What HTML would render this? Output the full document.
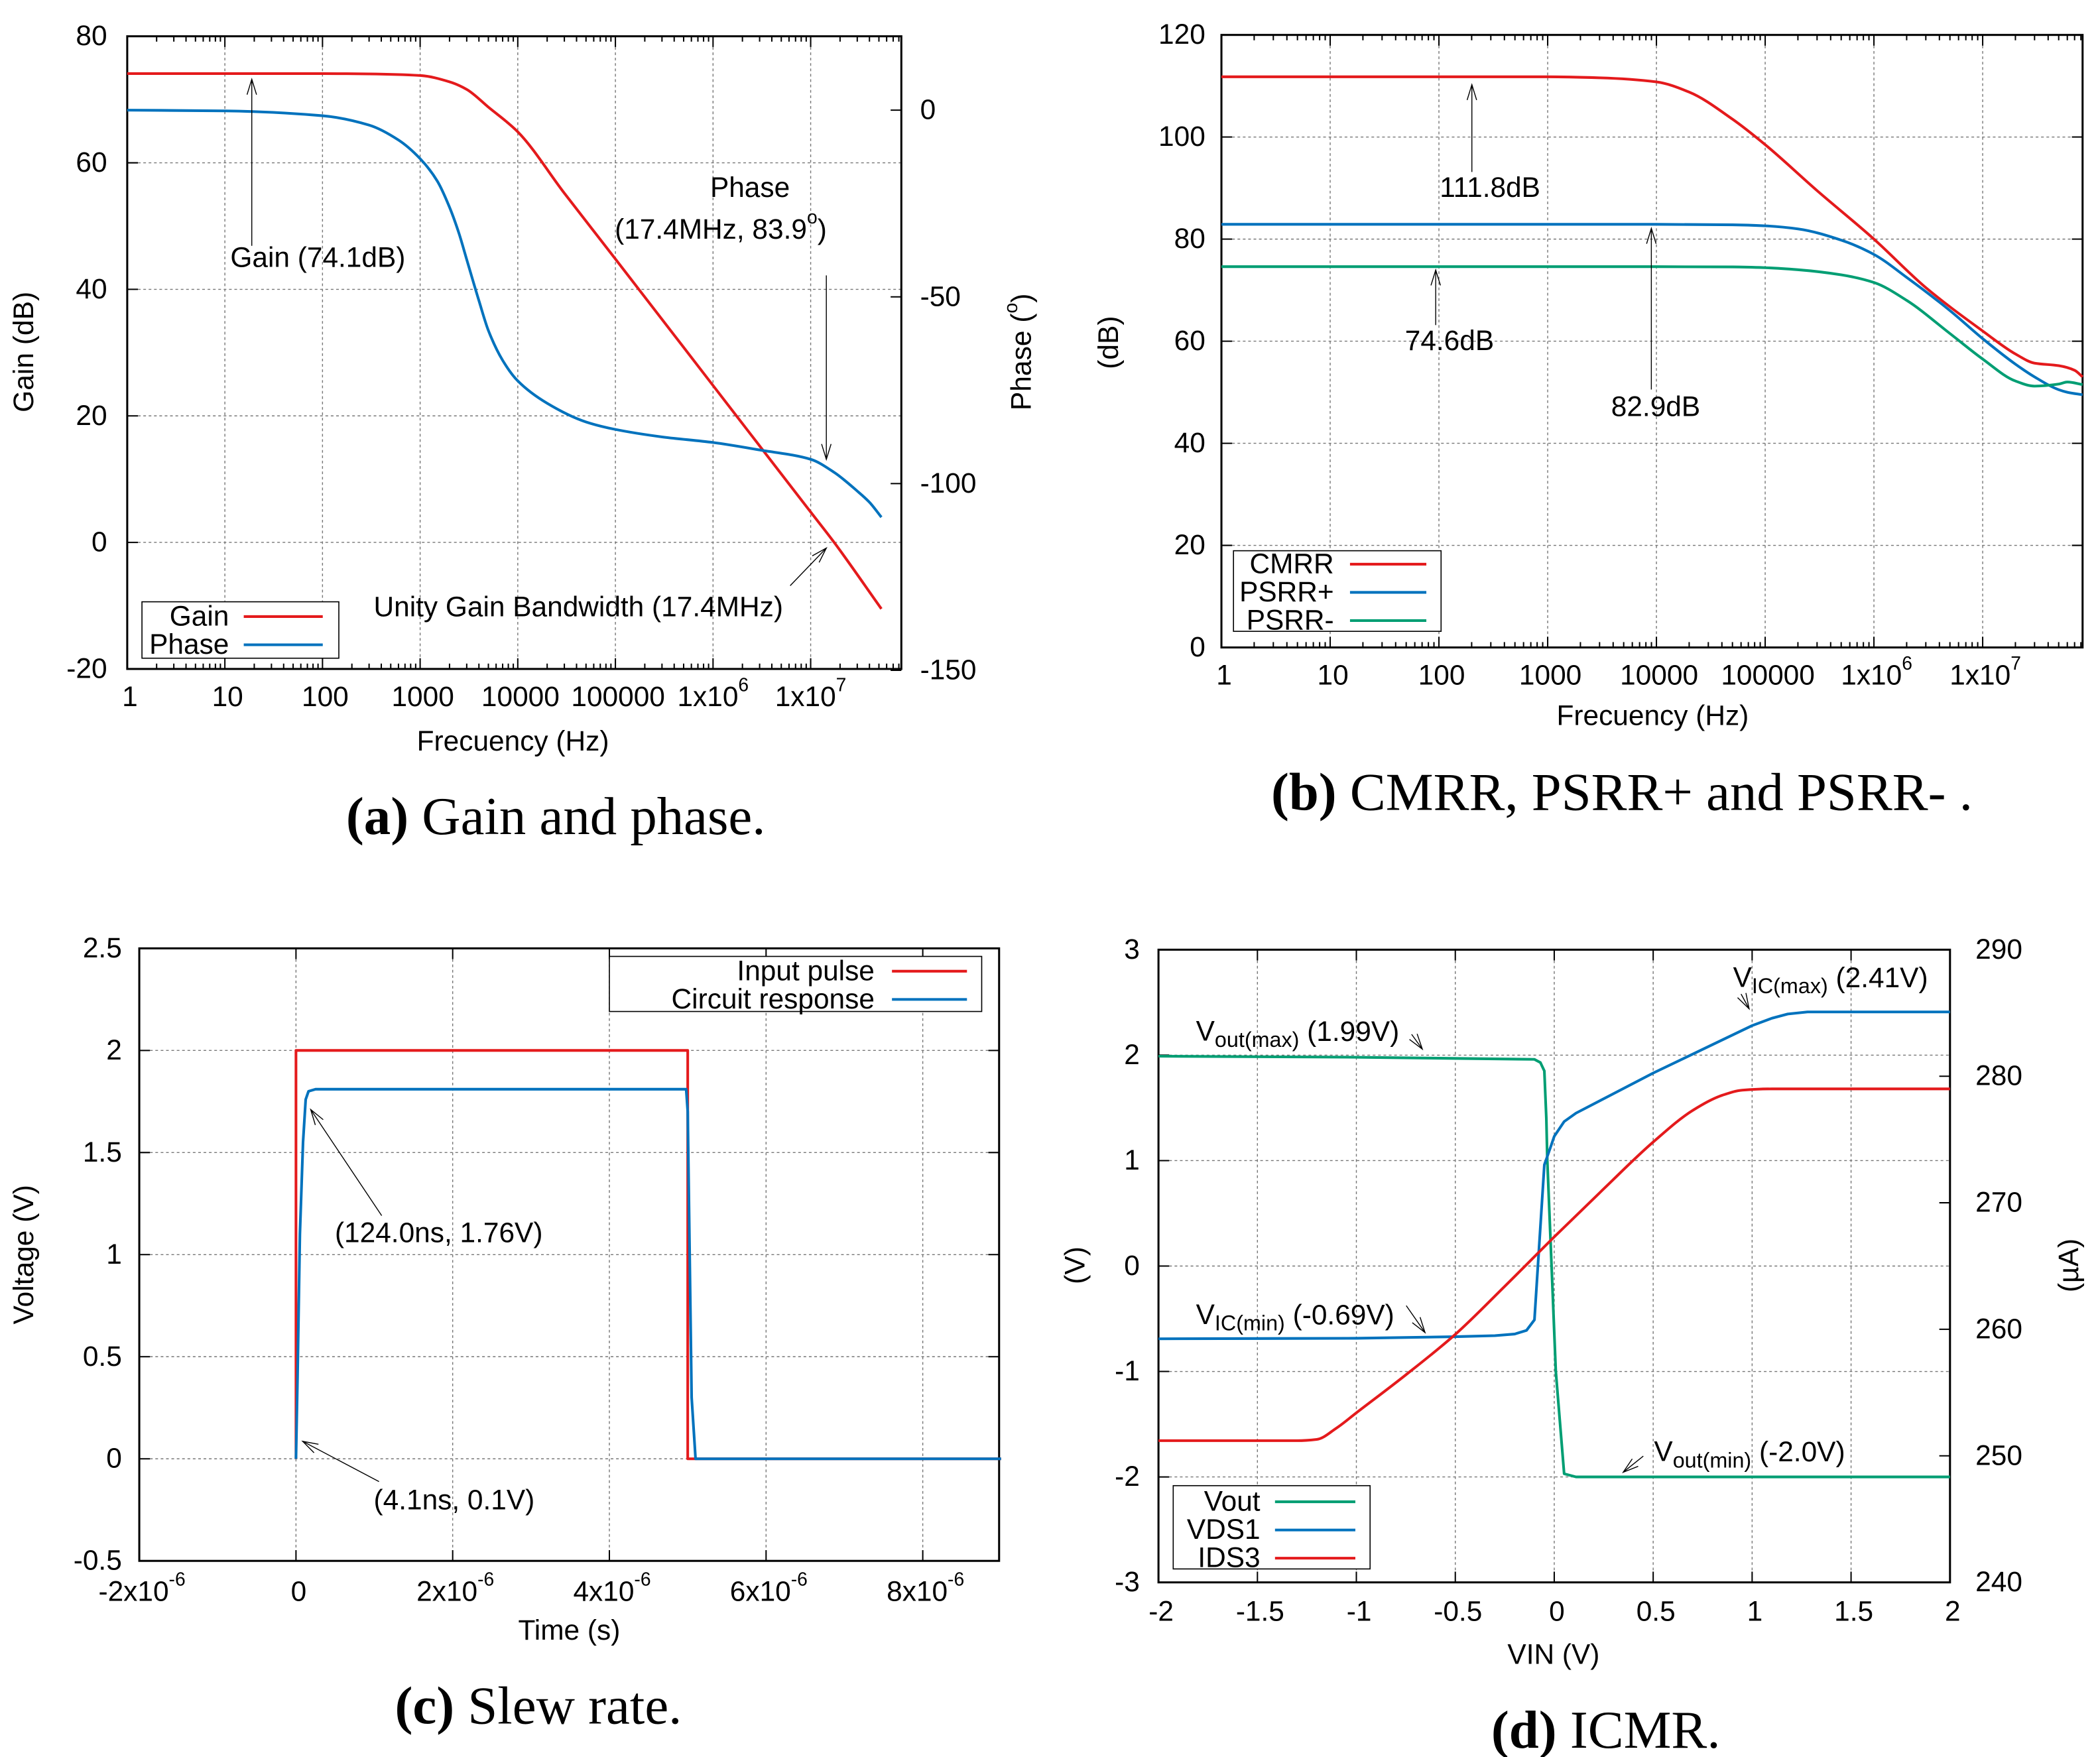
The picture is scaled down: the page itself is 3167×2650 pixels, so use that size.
<!DOCTYPE html>
<html><head><meta charset="utf-8">
<style>
html,body{margin:0;padding:0;background:#fff;}
svg{display:block;}
text{font-family:"Liberation Sans",sans-serif;fill:#000;}
.cap{font-family:"Liberation Serif",serif;font-size:40px;}
</style></head>
<body>
<svg id="fig" width="3167" height="2650" viewBox="0 0 1568 1308" preserveAspectRatio="none" xmlns="http://www.w3.org/2000/svg">
<g id="gA"></g>
<g id="gB"></g>
<g id="gC"></g>
<g id="gD"></g>

<text x="18" y="262" font-size="21" text-anchor="middle" transform="rotate(-90 18 262)" dominant-baseline="central">Gain (dB)</text>
<text x="763" y="262" font-size="21" text-anchor="middle" transform="rotate(-90 763 262)" dominant-baseline="central">Phase (<tspan font-size="14" dy="-8">o</tspan><tspan dy="8">)</tspan></text>
<text x="383" y="552" font-size="21" text-anchor="middle" dominant-baseline="central">Frecuency (Hz)</text>
<text x="172" y="192" font-size="21" dominant-baseline="central">Gain (74.1dB)</text>
<text x="560" y="140" font-size="21" text-anchor="middle" dominant-baseline="central">Phase</text>
<text x="459" y="171" font-size="21" dominant-baseline="central">(17.4MHz, 83.9<tspan font-size="14" dy="-9">o</tspan><tspan dy="9">)</tspan></text>
<text x="279" y="452" font-size="21" dominant-baseline="central">Unity Gain Bandwidth (17.4MHz)</text>
<text class="cap" x="415" y="621" text-anchor="middle"><tspan font-weight="bold">(a)</tspan> Gain and phase.</text>

<text x="828" y="255" font-size="21" text-anchor="middle" transform="rotate(-90 828 255)" dominant-baseline="central">(dB)</text>
<text x="1234" y="533" font-size="21" text-anchor="middle" dominant-baseline="central">Frecuency (Hz)</text>
<text x="1075" y="140" font-size="21" dominant-baseline="central">111.8dB</text>
<text x="1049" y="254" font-size="21" dominant-baseline="central">74.6dB</text>
<text x="1203" y="303" font-size="21" dominant-baseline="central">82.9dB</text>
<text class="cap" x="1211" y="603" text-anchor="middle"><tspan font-weight="bold">(b)</tspan> CMRR, PSRR+ and PSRR- .</text>

<text x="18" y="934" font-size="21" text-anchor="middle" transform="rotate(-90 18 934)" dominant-baseline="central">Voltage (V)</text>
<text x="425" y="1214" font-size="21" text-anchor="middle" dominant-baseline="central">Time (s)</text>
<text x="250" y="918" font-size="21" dominant-baseline="central">(124.0ns, 1.76V)</text>
<text x="279" y="1117" font-size="21" dominant-baseline="central">(4.1ns, 0.1V)</text>
<text class="cap" x="402" y="1283" text-anchor="middle"><tspan font-weight="bold">(c)</tspan> Slew rate.</text>

<text x="803" y="942" font-size="21" text-anchor="middle" transform="rotate(-90 803 942)" dominant-baseline="central">(V)</text>
<text x="1545" y="942" font-size="21" text-anchor="middle" transform="rotate(-90 1545 942)" dominant-baseline="central">(µA)</text>
<text x="1160" y="1232" font-size="21" text-anchor="middle" dominant-baseline="central">VIN (V)</text>
<text x="893" y="768" font-size="21" dominant-baseline="central">V<tspan font-size="16" dy="6">out(max)</tspan><tspan dy="-6"> (1.99V)</tspan></text>
<text x="1294" y="728" font-size="21" dominant-baseline="central">V<tspan font-size="16" dy="6">IC(max)</tspan><tspan dy="-6"> (2.41V)</tspan></text>
<text x="893" y="979" font-size="21" dominant-baseline="central">V<tspan font-size="16" dy="6">IC(min)</tspan><tspan dy="-6"> (-0.69V)</tspan></text>
<text x="1235" y="1081" font-size="21" dominant-baseline="central">V<tspan font-size="16" dy="6">out(min)</tspan><tspan dy="-6"> (-2.0V)</tspan></text>
<text class="cap" x="1199" y="1301" text-anchor="middle"><tspan font-weight="bold">(d)</tspan> ICMR.</text>
</svg>

<script>
// ---------- Panel A data ----------
const aFreq  = [1, 100, 300, 1000, 2000, 3000, 5000, 10000, 30000, 100000, 1000000, 10000000, 17400000, 53000000];
const aGain  = [74.1, 74.1, 74.05, 73.8, 72.8, 71.6, 68.8, 64.9, 55.2, 44.8, 24.8, 4.8, 0.0, -10.5];
const aPhFreq = [1, 10, 100, 300, 600, 1000, 1500, 2000, 2500, 3000, 4000, 5000, 7000, 10000, 20000, 50000, 100000, 300000, 1000000, 3000000, 10000000, 17400000, 30000000, 40000000, 53000000];
const aPhase  = [0, -0.2, -1.5, -4, -8, -13, -19, -26, -33, -40, -51, -59, -67, -72.5, -78.5, -83.5, -85.5, -87.5, -89, -91, -93.5, -97, -102, -105, -109];
const aYTicks = [80, 60, 40, 20, 0, -20];
const aY2Ticks = [0, -50, -100, -150];
const aXDecades = [0, 1, 2, 3, 4, 5, 6, 7];
const aXLabels = ["1", "10", "100", "1000", "10000", "100000", "1x10^6", "1x10^7"];

// ---------- Panel B data ----------
const bFreq  = [1, 1000, 3000, 10000, 20000, 50000, 100000, 300000, 1000000, 3000000, 10000000, 20000000, 30000000, 50000000, 70000000, 83000000];
const bCMRR  = [111.8, 111.8, 111.6, 110.8, 108.8, 103.5, 98.5, 89.5, 80, 70.5, 62, 57.5, 55.7, 55.2, 54.3, 53];
const bPFreq = [1, 10000, 50000, 100000, 200000, 500000, 1000000, 2000000, 5000000, 10000000, 20000000, 30000000, 50000000, 60000000, 83000000];
const bPSRRp = [82.9, 82.9, 82.8, 82.6, 82.0, 79.8, 77.0, 72.5, 66.0, 60.5, 55.5, 53.0, 50.5, 50.0, 49.5];
const bPSRRm = [74.6, 74.6, 74.55, 74.4, 74.0, 73.0, 71.5, 68.0, 61.5, 56.5, 52.2, 51.2, 51.6, 52.0, 51.5];
const bYTicks = [120, 100, 80, 60, 40, 20, 0];
const bXDecades = [0, 1, 2, 3, 4, 5, 6, 7];
const bXLabels = ["1", "10", "100", "1000", "10000", "100000", "1x10^6", "1x10^7"];

// ---------- Panel C data ----------
const cInT = [0, 0, 5.0, 5.0, 9.0];
const cInV = [0, 2.0, 2.0, 0, 0];
const cRespT = [0, 0.02, 0.05, 0.09, 0.124, 0.16, 0.25, 4.98, 5.0, 5.05, 5.1, 9.0];
const cRespV = [0, 0.4, 1.1, 1.55, 1.76, 1.8, 1.81, 1.81, 1.7, 0.3, 0.0, 0.0];
const cYTicks = [2.5, 2, 1.5, 1, 0.5, 0, -0.5];
const cXTicks = [-2, 0, 2, 4, 6, 8];
const cXLabels = ["-2x10^-6", "0", "2x10^-6", "4x10^-6", "6x10^-6", "8x10^-6"];

// ---------- Panel D data ----------
const dVoutX = [-2, -1, -0.1, -0.07, -0.05, -0.04, -0.035, 0.008, 0.05, 0.11, 2];
const dVoutY = [1.99, 1.98, 1.96, 1.93, 1.85, 1.4, 1.0, -1.0, -1.97, -2.0, -2.0];
const dVdsX = [-2, -1, -0.5, -0.3, -0.2, -0.14, -0.1, -0.05, -0.02, 0, 0.05, 0.11, 0.5, 0.8, 1.0, 1.1, 1.18, 1.28, 2];
const dVdsY = [-0.69, -0.685, -0.67, -0.66, -0.645, -0.61, -0.51, 0.96, 1.12, 1.23, 1.37, 1.45, 1.83, 2.1, 2.28, 2.35, 2.39, 2.41, 2.41];
const dIdsX = [-2, -1.3, -1.2, -1.1, -1.0, -0.75, -0.5, -0.25, 0, 0.25, 0.5, 0.7, 0.85, 0.95, 1.1, 2];
const dIdsY = [251.2, 251.2, 251.3, 252.2, 253.4, 256.4, 259.6, 263.4, 267.3, 271.1, 274.8, 277.3, 278.5, 278.9, 279.0, 279.0];
const dYTicks = [3, 2, 1, 0, -1, -2, -3];
const dY2Ticks = [290, 280, 270, 260, 250, 240];
const dXTicks = [-2, -1.5, -1, -0.5, 0, 0.5, 1, 1.5, 2];

const RED = "#e41a1c", BLUE = "#0072bd", GREEN = "#009e73";
const FS = 21;
const NS = "http://www.w3.org/2000/svg";
function mk(parent, tag, attrs) {
  const el = document.createElementNS(NS, tag);
  for (const k in attrs) el.setAttribute(k, attrs[k]);
  parent.appendChild(el);
  return el;
}
// monotone cubic (Fritsch-Carlson) sampled densely
function smoothPath(pts) {
  const n = pts.length, xs = pts.map(p => p[0]), ys = pts.map(p => p[1]);
  const dx = [], s = [];
  for (let i = 0; i < n - 1; i++) { dx.push(xs[i + 1] - xs[i]); s.push((ys[i + 1] - ys[i]) / (xs[i + 1] - xs[i])); }
  const m = new Array(n);
  m[0] = s[0]; m[n - 1] = s[n - 2];
  for (let i = 1; i < n - 1; i++) {
    if (s[i - 1] * s[i] <= 0) m[i] = 0;
    else { const w1 = 2 * dx[i] + dx[i - 1], w2 = dx[i] + 2 * dx[i - 1]; m[i] = (w1 + w2) / (w1 / s[i - 1] + w2 / s[i]); }
  }
  let d = "M" + xs[0].toFixed(2) + "," + ys[0].toFixed(2);
  for (let i = 0; i < n - 1; i++) {
    const h = dx[i];
    d += " C" + (xs[i] + h / 3).toFixed(2) + "," + (ys[i] + m[i] * h / 3).toFixed(2) + " " + (xs[i + 1] - h / 3).toFixed(2) + "," + (ys[i + 1] - m[i + 1] * h / 3).toFixed(2) + " " + xs[i + 1].toFixed(2) + "," + ys[i + 1].toFixed(2);
  }
  return d;
}
function linePath(pts) {
  return "M" + pts.map(p => p[0].toFixed(2) + "," + p[1].toFixed(2)).join(" L");
}
function supLabel(g, x, y, label, anchor) {
  const t = mk(g, "text", {x: x, y: y, "font-size": FS, "text-anchor": anchor, "dominant-baseline": "central"});
  const parts = label.split("^");
  t.textContent = parts[0];
  if (parts[1]) {
    const s = mk(t, "tspan", {"font-size": 14, dy: -9});
    s.textContent = parts[1];
  }
  return t;
}
function frame(g, x0, y0, x1, y1) {
  const r = mk(g, "rect", {x: x0, y: y0, width: x1 - x0, height: y1 - y0, fill: "none", stroke: "#000", "stroke-width": 1.5});
  
  
}
function hgrid(g, x0, x1, y) {
  const l = mk(g, "line", {x1: x0, x2: x1, y1: y, y2: y, stroke: "#777", "stroke-width": 0.7, "stroke-dasharray": "2,2"});
  
  
}
function vgrid(g, x, y0, y1) {
  const l = mk(g, "line", {x1: x, x2: x, y1: y0, y2: y1, stroke: "#777", "stroke-width": 0.7, "stroke-dasharray": "2,2"});
  
  
}
function tick(g, x1, y1, x2, y2) {
  const l = mk(g, "line", {x1: x1, y1: y1, x2: x2, y2: y2, stroke: "#000", "stroke-width": 1});
  
  
}
function arrow(g, x1, y1, x2, y2) {
  const l = mk(g, "line", {x1: x1, y1: y1, x2: x2, y2: y2, stroke: "#000", "stroke-width": 0.7});
  
  
  const a = Math.atan2(y2 - y1, x2 - x1), L = 12, w = 0.3;
  const h = mk(g, "polyline", {points: (x2 - L * Math.cos(a - w)) + "," + (y2 - L * Math.sin(a - w)) + " " + x2 + "," + y2 + " " + (x2 - L * Math.cos(a + w)) + "," + (y2 - L * Math.sin(a + w)), fill: "none", stroke: "#000", "stroke-width": 0.7});
  
  
}
function legend(g, x0, y0, x1, y1, textX, lineX0, lineX1, entries) {
  const r = mk(g, "rect", {x: x0, y: y0, width: x1 - x0, height: y1 - y0, fill: "#fff", stroke: "#000", "stroke-width": 0.8});
  
  
  entries.forEach(e => {
    const t = mk(g, "text", {x: textX, y: e[2], "font-size": FS, "text-anchor": "end", "dominant-baseline": "central"});
    t.textContent = e[0];
    
    
    const l = mk(g, "line", {x1: lineX0, x2: lineX1, y1: e[2], y2: e[2], stroke: e[1], "stroke-width": 2});
    
    
  });
}
function series(g, d, color, name) {
  const p = mk(g, "path", {d: d, fill: "none", stroke: color, "stroke-width": 2, "stroke-linejoin": "round"});
  
  
}

// ================= Panel A =================
(function () {
  const g = document.getElementById("gA");
  const X0 = 95, X1 = 673, Y0 = 27, Y1 = 498, DEC = 72.9;
  const xa = f => X0 + Math.log10(f) * DEC;
  const ya = v => Y0 + (80 - v) * 4.71;
  const pa = p => 82 - p * 2.78;
  aYTicks.forEach(v => {
    if (v !== 80 && v !== -20) hgrid(g, X0, X1, ya(v));
    tick(g, X0, ya(v), X0 + 8, ya(v));
    const t = mk(g, "text", {x: 80, y: ya(v), "font-size": FS, "text-anchor": "end", "dominant-baseline": "central"});
    t.textContent = v;
    
    
  });
  aY2Ticks.forEach(v => {
    tick(g, X1, pa(v), X1 - 8, pa(v));
    const t = mk(g, "text", {x: 687, y: pa(v), "font-size": FS, "dominant-baseline": "central"});
    t.textContent = v;
    
    
  });
  aXDecades.forEach((d, i) => {
    const x = X0 + d * DEC;
    if (d > 0) vgrid(g, x, Y0, Y1);
    tick(g, x, Y1, x, Y1 - 8); tick(g, x, Y0, x, Y0 + 8);
    for (let m = 2; m <= 9; m++) {
      const xm = x + Math.log10(m) * DEC;
      if (xm < X1) { tick(g, xm, Y1, xm, Y1 - 4); tick(g, xm, Y0, xm, Y0 + 4); }
    }
    const t = supLabel(g, x + (i >= 6 ? 0 : 2), 519, aXLabels[i], "middle");
    
    
  });
  frame(g, X0, Y0, X1, Y1);
  series(g, smoothPath(aFreq.map((f, i) => [xa(f), ya(aGain[i])])), RED, "gain-line");
  series(g, smoothPath(aPhFreq.map((f, i) => [xa(f), pa(aPhase[i])])), BLUE, "phase-line");
  arrow(g, 188, 183, 188, 59);
  arrow(g, 617, 205, 617, 342);
  arrow(g, 590, 436, 617, 408);
  legend(g, 106, 448, 253, 490, 171, 182, 241, [["Gain", RED, 459], ["Phase", BLUE, 480]]);
})();

// ================= Panel B =================
(function () {
  const g = document.getElementById("gB");
  const X0 = 912, X1 = 1555, Y0 = 26, Y1 = 482, DEC = 81.2;
  const xb = f => X0 + Math.log10(f) * DEC;
  const yb = v => Y1 - v * 3.8;
  bYTicks.forEach(v => {
    if (v !== 120 && v !== 0) hgrid(g, X0, X1, yb(v));
    tick(g, X0, yb(v), X0 + 8, yb(v)); tick(g, X1, yb(v), X1 - 8, yb(v));
    const t = mk(g, "text", {x: 900, y: yb(v), "font-size": FS, "text-anchor": "end", "dominant-baseline": "central"});
    t.textContent = v;
    
    
  });
  bXDecades.forEach((d, i) => {
    const x = X0 + d * DEC;
    if (d > 0) vgrid(g, x, Y0, Y1);
    tick(g, x, Y1, x, Y1 - 8); tick(g, x, Y0, x, Y0 + 8);
    for (let m = 2; m <= 9; m++) {
      const xm = x + Math.log10(m) * DEC;
      if (xm < X1) { tick(g, xm, Y1, xm, Y1 - 4); tick(g, xm, Y0, xm, Y0 + 4); }
    }
    const t = supLabel(g, x + 2, 503, bXLabels[i], "middle");
    
    
  });
  frame(g, X0, Y0, X1, Y1);
  series(g, smoothPath(bFreq.map((f, i) => [xb(f), yb(bCMRR[i])])), RED, "cmrr-line");
  series(g, smoothPath(bPFreq.map((f, i) => [xb(f), yb(bPSRRp[i])])), BLUE, "psrr-plus-line");
  series(g, smoothPath(bPFreq.map((f, i) => [xb(f), yb(bPSRRm[i])])), GREEN, "psrr-minus-line");
  arrow(g, 1099, 128, 1099, 63);
  arrow(g, 1072, 242, 1072, 201);
  arrow(g, 1233, 290, 1233, 170);
  legend(g, 921, 410, 1076, 470, 996, 1008, 1065, [["CMRR", RED, 420], ["PSRR+", BLUE, 441], ["PSRR-", GREEN, 462]]);
})();

// ================= Panel C =================
(function () {
  const g = document.getElementById("gC");
  const X0 = 104, X1 = 746, Y0 = 706, Y1 = 1162;
  const xc = t => 221 + t * 58.5;
  const yc = v => 1086 - v * 152;
  cYTicks.forEach(v => {
    if (v !== 2.5 && v !== -0.5) hgrid(g, X0, X1, yc(v));
    tick(g, X0, yc(v), X0 + 8, yc(v)); tick(g, X1, yc(v), X1 - 8, yc(v));
    const t = mk(g, "text", {x: 91, y: yc(v), "font-size": FS, "text-anchor": "end", "dominant-baseline": "central"});
    t.textContent = v;
    
    
  });
  cXTicks.forEach((v, i) => {
    const x = xc(v);
    if (i > 0) vgrid(g, x, Y0, Y1);
    tick(g, x, Y1, x, Y1 - 8); tick(g, x, Y0, x, Y0 + 8);
    const t = supLabel(g, x + 2, 1185, cXLabels[i], "middle");
    
    
  });
  frame(g, X0, Y0, X1, Y1);
  series(g, linePath(cInT.map((t, i) => [xc(t), yc(cInV[i])])), RED, "input-pulse-line");
  series(g, linePath(cRespT.map((t, i) => [xc(t), yc(cRespV[i])])), BLUE, "circuit-response-line");
  arrow(g, 285, 905, 232, 826);
  arrow(g, 283, 1103, 226, 1073);
  legend(g, 455, 712, 733, 753, 653, 666, 722, [["Input pulse", RED, 723], ["Circuit response", BLUE, 744]]);
})();

// ================= Panel D =================
(function () {
  const g = document.getElementById("gD");
  const X0 = 865, X1 = 1456, Y0 = 707, Y1 = 1178;
  const xd = v => 1160.5 + v * 147.75;
  const yd = v => 942.5 - v * 78.5;
  const yr = i => Y1 - (i - 240) * 9.42;
  dYTicks.forEach(v => {
    if (v !== 3 && v !== -3) hgrid(g, X0, X1, yd(v));
    tick(g, X0, yd(v), X0 + 8, yd(v));
    const t = mk(g, "text", {x: 851, y: yd(v), "font-size": FS, "text-anchor": "end", "dominant-baseline": "central"});
    t.textContent = v;
    
    
  });
  dY2Ticks.forEach(v => {
    tick(g, X1, yr(v), X1 - 8, yr(v));
    const t = mk(g, "text", {x: 1475, y: yr(v), "font-size": FS, "dominant-baseline": "central"});
    t.textContent = v;
    
    
  });
  dXTicks.forEach((v, i) => {
    const x = xd(v);
    if (i > 0 && i < dXTicks.length - 1) vgrid(g, x, Y0, Y1);
    tick(g, x, Y1, x, Y1 - 8); tick(g, x, Y0, x, Y0 + 8);
    const t = mk(g, "text", {x: x + 2, y: 1200, "font-size": FS, "text-anchor": "middle", "dominant-baseline": "central"});
    t.textContent = v;
    
    
  });
  frame(g, X0, Y0, X1, Y1);
  series(g, linePath(dVoutX.map((v, i) => [xd(v), yd(dVoutY[i])])), GREEN, "vout-line");
  series(g, linePath(dVdsX.map((v, i) => [xd(v), yd(dVdsY[i])])), BLUE, "vds1-line");
  series(g, smoothPath(dIdsX.map((v, i) => [xd(v), yr(dIdsY[i])])), RED, "ids3-line");
  arrow(g, 1054, 770, 1062, 781);
  arrow(g, 1300, 740, 1306, 751);
  arrow(g, 1050, 972, 1064, 992);
  arrow(g, 1227, 1084, 1212, 1096);
  legend(g, 876, 1106, 1023, 1168, 941, 952, 1012, [["Vout", GREEN, 1118], ["VDS1", BLUE, 1139], ["IDS3", RED, 1160]]);
})();
</script>
</body></html>
